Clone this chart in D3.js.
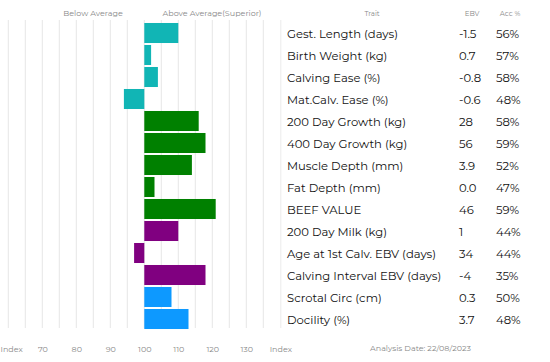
<!DOCTYPE html>
<html>
<head>
<meta charset="utf-8">
<script src="https://cdn.jsdelivr.net/npm/d3@7"></script>
<style>
  body { margin: 0; background: #fff; }
  svg { display: block; }
</style>
</head>
<body>
<div class="chart"></div>
<script>
const traits = ["Gest. Length (days)", "Birth Weight (kg)", "Calving Ease (%)", "Mat.Calv. Ease (%)",
  "200 Day Growth (kg)", "400 Day Growth (kg)", "Muscle Depth (mm)", "Fat Depth (mm)", "BEEF VALUE",
  "200 Day Milk (kg)", "Age at 1st Calv. EBV (days)", "Calving Interval EBV (days)", "Scrotal Circ (cm)", "Docility (%)"];
const indexValues = [110, 102, 104, 94, 116, 118, 114, 103, 121, 110, 97, 118, 108, 113];
const ebv = ["-1.5", "0.7", "-0.8", "-0.6", "28", "56", "3.9", "0.0", "46", "1", "34", "-4", "0.3", "3.7"];
const acc = ["56%", "57%", "58%", "48%", "58%", "59%", "52%", "47%", "59%", "44%", "44%", "35%", "50%", "48%"];
const groups = ["calving", "calving", "calving", "calving", "growth", "growth", "growth", "growth", "growth",
  "maternal", "maternal", "maternal", "other", "other"];
const tickValues = [60, 70, 80, 90, 100, 110, 120, 130, 140];
const tickLabels = ["Index", "70", "80", "90", "100", "110", "120", "130", "Index"];

const width = 550, height = 362;
const font = "Montserrat, 'Noto Sans', sans-serif";

const svg = d3.select(".chart").append("svg")
  .attr("width", width)
  .attr("height", height);

const xScale = d3.scaleLinear().domain([60, 140]).range([8.3, 280.3]);
const yScale = d3.scaleBand().domain(traits).range([22, 330]).paddingInner(0.09).paddingOuter(0.045);
const colorScale = d3.scaleOrdinal()
  .domain(["calving", "growth", "maternal", "other"])
  .range(["#11b5b5", "#008000", "#800080", "#0d99ff"]);

// grid every 5
svg.append("g")
  .selectAll("line")
  .data(d3.range(60, 140, 5))
  .enter()
  .append("line")
  .attr("x1", d => xScale(d)).attr("x2", d => xScale(d))
  .attr("y1", 20).attr("y2", 328)
  .attr("stroke", "#e6e6e6")
  .attr("stroke-width", 1);

// table left border
svg.append("line")
  .attr("x1", xScale(140) + 0.5).attr("x2", xScale(140) + 0.5)
  .attr("y1", 20).attr("y2", 328)
  .attr("stroke", "#ececec");

svg.selectAll("rect.bar")
  .data(traits)
  .enter()
  .append("rect")
  .attr("class", "bar")
  .attr("x", (d, i) => xScale(Math.min(100, indexValues[i])))
  .attr("y", d => yScale(d))
  .attr("width", (d, i) => Math.abs(xScale(indexValues[i]) - xScale(100)))
  .attr("height", yScale.bandwidth())
  .attr("fill", (d, i) => colorScale(groups[i]));

// x axis
const xAxis = d3.axisBottom(xScale)
  .tickValues(tickValues)
  .tickSize(0)
  .tickFormat((d, i) => tickLabels[i]);

const gx = svg.append("g")
  .attr("transform", "translate(0, 343)")
  .call(xAxis);
gx.select(".domain").remove();
gx.selectAll("text")
  .attr("fill", "#888")
  .style("font-family", font)
  .style("font-size", "8px");
// first label sits against the left edge
gx.selectAll(".tick text").filter(d => d === 60)
  .attr("text-anchor", "start")
  .attr("x", -8.3);

// header
const header = [["Below Average", 93, "middle"], ["Above Average(Superior)", 212, "middle"],
  ["Trait", 372, "middle"], ["EBV", 472, "middle"], ["Acc %", 510, "middle"]];
svg.selectAll("text.head")
  .data(header)
  .enter()
  .append("text")
  .attr("class", "head")
  .attr("x", d => d[1])
  .attr("y", 16)
  .attr("text-anchor", d => d[2])
  .attr("fill", "#888")
  .style("font-family", font)
  .style("font-size", d => d[0].length < 6 ? "7px" : "8px")
  .text(d => d[0]);

// table rows
const rows = svg.selectAll("g.row")
  .data(traits)
  .enter()
  .append("g")
  .attr("class", "row")
  .attr("transform", d => `translate(0, ${yScale(d) + yScale.bandwidth() / 2 + 4.5})`);

rows.append("text")
  .attr("x", 287)
  .text(d => d);
rows.append("text")
  .attr("x", 459)
  .text((d, i) => ebv[i]);
rows.append("text")
  .attr("x", 496)
  .text((d, i) => acc[i]);
rows.selectAll("text")
  .attr("fill", "#111")
  .style("font-family", font)
  .style("font-size", "11.6px");

svg.append("text")
  .attr("x", 370)
  .attr("y", 351)
  .attr("fill", "#888")
  .style("font-family", font)
  .style("font-size", "8px")
  .text("Analysis Date: 22/08/2023");
</script>
</body>
</html>
